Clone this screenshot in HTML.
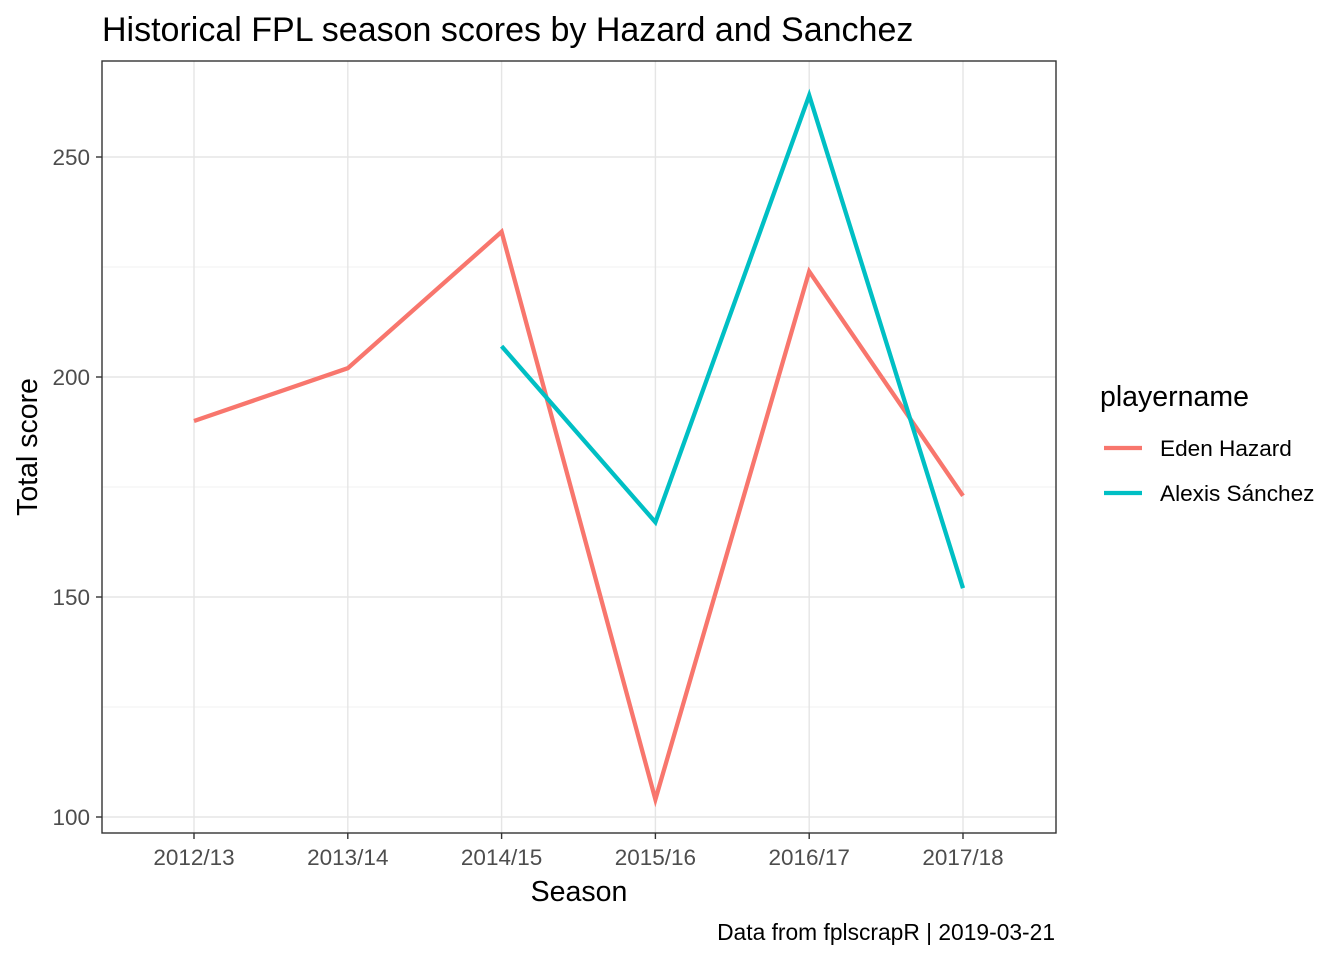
<!DOCTYPE html>
<html><head><meta charset="utf-8"><style>
body{margin:0;background:#fff;}
svg{display:block;font-family:"Liberation Sans",Arial,sans-serif;}
</style></head><body>
<svg id="chart" width="1344" height="960">
<text x="102" y="41" font-size="34" fill="#000">Historical FPL season scores by Hazard and Sanchez</text>
<g id="grid"></g>
<g id="lines"></g>
<rect x="102" y="61" width="954" height="772" fill="none" stroke="#333" stroke-width="1.4"/>
<g id="axes"></g>
<text x="579" y="901" font-size="28.5" text-anchor="middle">Season</text>
<text transform="translate(37,447) rotate(-90)" font-size="28.5" text-anchor="middle">Total score</text>
<text x="1055" y="940" font-size="22.8" text-anchor="end">Data from fplscrapR | 2019-03-21</text>
<g>
<text x="1100" y="406" font-size="28.5">playername</text>
<line x1="1104" y1="448" x2="1142" y2="448" stroke="#F8766D" stroke-width="4.3"/>
<text x="1160" y="456" font-size="22.6">Eden Hazard</text>
<line x1="1104" y1="493" x2="1142" y2="493" stroke="#00BFC4" stroke-width="4.3"/>
<text x="1160" y="501" font-size="22.6">Alexis Sánchez</text>
</g>
</svg>
<script>
const seasons=["2012/13","2013/14","2014/15","2015/16","2016/17","2017/18"];
const hazard=[190,202,233,104,224,173];
const sanchezSeasons=["2014/15","2015/16","2016/17","2017/18"];
const sanchez=[207,167,264,152];
const yTicks=[100,150,200,250];
const yMinor=[125,175,225];
const NS="http://www.w3.org/2000/svg";
const x=s=>194+seasons.indexOf(s)*153.8;
const y=v=>817-(v-100)*4.4;
function mk(tag,attrs,parent){const e=document.createElementNS(NS,tag);for(const k in attrs)e.setAttribute(k,attrs[k]);parent.appendChild(e);return e;}
const grid=document.getElementById('grid'),axes=document.getElementById('axes'),lines=document.getElementById('lines');
yMinor.forEach(v=>{const l=mk('line',{x1:102,x2:1056,y1:y(v),y2:y(v),stroke:'#f0f0f0','stroke-width':1},grid);

});
yTicks.forEach(v=>{const l=mk('line',{x1:102,x2:1056,y1:y(v),y2:y(v),stroke:'#e5e5e5','stroke-width':1.4},grid);


const t=mk('line',{x1:96,x2:102,y1:y(v),y2:y(v),stroke:'#333','stroke-width':1.4},axes);


const tx=mk('text',{x:90,y:y(v)+8,'font-size':22.5,'text-anchor':'end',fill:'#4d4d4d'},axes);tx.textContent=v;

});
seasons.forEach(s=>{const l=mk('line',{x1:x(s),x2:x(s),y1:61,y2:833,stroke:'#e5e5e5','stroke-width':1.4},grid);


const t=mk('line',{x1:x(s),x2:x(s),y1:833,y2:839,stroke:'#333','stroke-width':1.4},axes);


const tx=mk('text',{x:x(s),y:865,'font-size':22.5,'text-anchor':'middle',fill:'#4d4d4d'},axes);tx.textContent=s;

});
const p1=mk('polyline',{points:seasons.map((s,i)=>x(s)+','+y(hazard[i])).join(' '),fill:'none',stroke:'#F8766D','stroke-width':4.3},lines);


const p2=mk('polyline',{points:sanchezSeasons.map((s,i)=>x(s)+','+y(sanchez[i])).join(' '),fill:'none',stroke:'#00BFC4','stroke-width':4.3},lines);


</script>
</body></html>
